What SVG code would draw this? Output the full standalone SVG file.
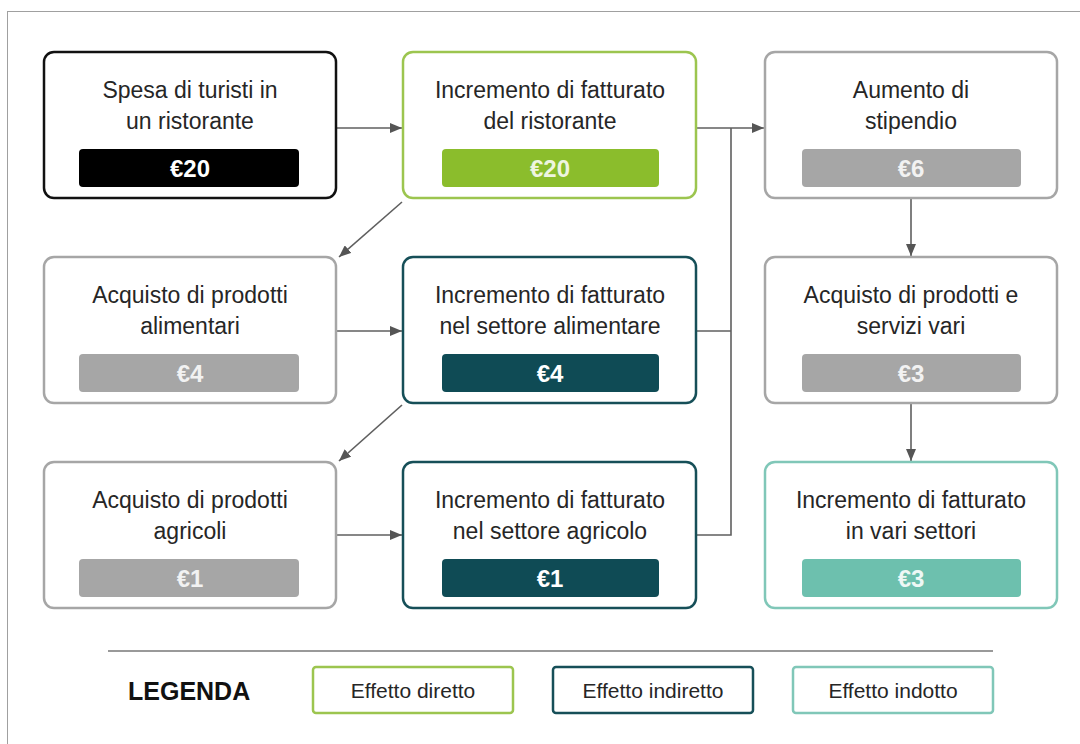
<svg xmlns="http://www.w3.org/2000/svg" width="1080" height="744" viewBox="0 0 1080 744">
<defs>
<style>
.box{fill:#fff;stroke-width:2.5}
.bar{stroke:none}
.t{font-family:"Liberation Sans",Arial,sans-serif;font-size:23px;fill:#262626;text-anchor:middle}
.v{font-family:"Liberation Sans",Arial,sans-serif;font-size:24px;font-weight:bold;text-anchor:middle}
.lt{font-family:"Liberation Sans",Arial,sans-serif;font-size:21px;fill:#262626;text-anchor:middle}
.start{stroke:#111}.startbar{fill:#000}
.dir{stroke:#9cc54f}.dirbar{fill:#8bbd2c}
.gray{stroke:#a6a6a6}.graybar{fill:#a6a6a6}
.ind{stroke:#164f58}.indbar{fill:#0f4b55}
.indo{stroke:#80c7b8}.indobar{fill:#6dc0ae}
.conn{fill:none;stroke:#5f5f5f;stroke-width:1.6}
</style>
<marker id="arr" viewBox="0 0 12 10" refX="12" refY="5" markerWidth="12" markerHeight="10" markerUnits="userSpaceOnUse" orient="auto">
<path d="M0,0 L12,5 L0,10 Z" fill="#555"/>
</marker>
</defs>
<rect x="0" y="0" width="1080" height="744" fill="#fff"/>
<rect x="7.5" y="11.5" width="1200" height="900" fill="none" stroke="#a0a0a0" stroke-width="1"/>

<g id="connectors">
<line class="conn" x1="337" y1="128" x2="402" y2="128" marker-end="url(#arr)"/>
<line class="conn" x1="697" y1="128" x2="764" y2="128" marker-end="url(#arr)"/>
<polyline class="conn" points="731,128 731,535 697,535"/>
<line class="conn" x1="697" y1="331" x2="731" y2="331"/>
<line class="conn" x1="337" y1="331" x2="402" y2="331" marker-end="url(#arr)"/>
<line class="conn" x1="337" y1="535" x2="402" y2="535" marker-end="url(#arr)"/>
<line class="conn" x1="402" y1="202" x2="339" y2="257" marker-end="url(#arr)"/>
<line class="conn" x1="402" y1="405" x2="339" y2="461" marker-end="url(#arr)"/>
<line class="conn" x1="911" y1="199" x2="911" y2="256" marker-end="url(#arr)"/>
<line class="conn" x1="911" y1="404" x2="911" y2="461" marker-end="url(#arr)"/>
</g>

<g id="n1">
<rect class="box start" x="44" y="52" width="292" height="146" rx="10"/>
<rect class="bar startbar" x="79" y="149" width="220" height="38" rx="4"/>
<text class="t" x="190" y="98">Spesa di turisti in</text>
<text class="t" x="190" y="129">un ristorante</text>
<text class="v" x="190" y="177" fill="#fff">€20</text>
</g>

<g id="n2">
<rect class="box dir" x="403" y="52" width="293" height="146" rx="10"/>
<rect class="bar dirbar" x="442" y="149" width="217" height="38" rx="4"/>
<text class="t" x="550" y="98">Incremento di fatturato</text>
<text class="t" x="550" y="129">del ristorante</text>
<text class="v" x="550" y="177" fill="#eef5e0">€20</text>
</g>

<g id="n3">
<rect class="box gray" x="765" y="52" width="292" height="146" rx="10"/>
<rect class="bar graybar" x="802" y="149" width="219" height="38" rx="4"/>
<text class="t" x="911" y="98">Aumento di</text>
<text class="t" x="911" y="129">stipendio</text>
<text class="v" x="911" y="177" fill="#f2f2f2">€6</text>
</g>

<g id="n4">
<rect class="box gray" x="44" y="257" width="292" height="146" rx="10"/>
<rect class="bar graybar" x="79" y="354" width="220" height="38" rx="4"/>
<text class="t" x="190" y="303">Acquisto di prodotti</text>
<text class="t" x="190" y="334">alimentari</text>
<text class="v" x="190" y="382" fill="#f2f2f2">€4</text>
</g>

<g id="n5">
<rect class="box ind" x="403" y="257" width="293" height="146" rx="10"/>
<rect class="bar indbar" x="442" y="354" width="217" height="38" rx="4"/>
<text class="t" x="550" y="303">Incremento di fatturato</text>
<text class="t" x="550" y="334">nel settore alimentare</text>
<text class="v" x="550" y="382" fill="#fff">€4</text>
</g>

<g id="n6">
<rect class="box gray" x="765" y="257" width="292" height="146" rx="10"/>
<rect class="bar graybar" x="802" y="354" width="219" height="38" rx="4"/>
<text class="t" x="911" y="303">Acquisto di prodotti e</text>
<text class="t" x="911" y="334">servizi vari</text>
<text class="v" x="911" y="382" fill="#f2f2f2">€3</text>
</g>

<g id="n7">
<rect class="box gray" x="44" y="462" width="292" height="146" rx="10"/>
<rect class="bar graybar" x="79" y="559" width="220" height="38" rx="4"/>
<text class="t" x="190" y="508">Acquisto di prodotti</text>
<text class="t" x="190" y="539">agricoli</text>
<text class="v" x="190" y="587" fill="#f2f2f2">€1</text>
</g>

<g id="n8">
<rect class="box ind" x="403" y="462" width="293" height="146" rx="10"/>
<rect class="bar indbar" x="442" y="559" width="217" height="38" rx="4"/>
<text class="t" x="550" y="508">Incremento di fatturato</text>
<text class="t" x="550" y="539">nel settore agricolo</text>
<text class="v" x="550" y="587" fill="#fff">€1</text>
</g>

<g id="n9">
<rect class="box indo" x="765" y="462" width="292" height="146" rx="10"/>
<rect class="bar indobar" x="802" y="559" width="219" height="38" rx="4"/>
<text class="t" x="911" y="508">Incremento di fatturato</text>
<text class="t" x="911" y="539">in vari settori</text>
<text class="v" x="911" y="587" fill="#eef8f5">€3</text>
</g>

<g id="legend">
<line x1="108" y1="651" x2="993" y2="651" stroke="#777" stroke-width="1.5"/>
<text x="128" y="700" font-family="'Liberation Sans',Arial,sans-serif" font-size="25" font-weight="bold" fill="#111">LEGENDA</text>
<g id="leg-diretto">
<rect class="box dir" x="313" y="667" width="200" height="46" rx="3"/>
<text class="lt" x="413" y="698">Effetto diretto</text>
</g>
<g id="leg-indiretto">
<rect class="box ind" x="553" y="667" width="200" height="46" rx="3"/>
<text class="lt" x="653" y="698">Effetto indiretto</text>
</g>
<g id="leg-indotto">
<rect class="box indo" x="793" y="667" width="200" height="46" rx="3"/>
<text class="lt" x="893" y="698">Effetto indotto</text>
</g>
</g>
</svg>
